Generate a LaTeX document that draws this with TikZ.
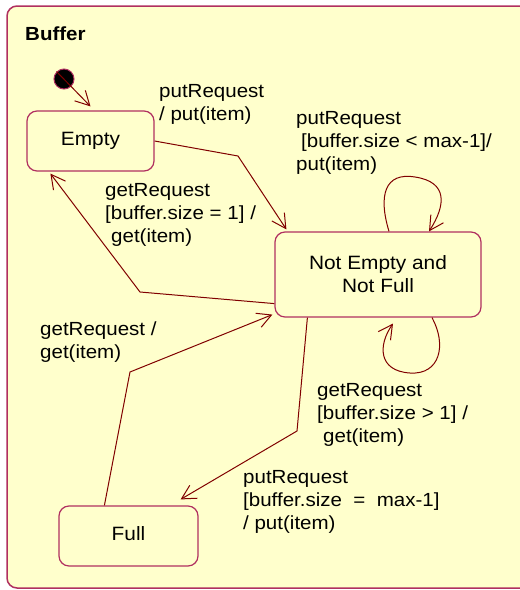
\documentclass[tikz,border=0pt]{standalone}
\usepackage{fontspec}
\setmainfont{Liberation Sans}[FakeStretch=1.08]
\usetikzlibrary{arrows.meta}
\definecolor{bufferfill}{RGB}{255,255,204}
\definecolor{framecol}{RGB}{176,48,96}
\definecolor{arrowcol}{RGB}{128,0,0}

\begin{document}
\begin{tikzpicture}[x=1pt, y=-1pt,
	state/.style={draw=framecol, line width=1.2pt, rounded corners=10pt, align=center, inner sep=0pt, font=\fontsize{19.3}{23}\selectfont},
	trans/.style={draw=arrowcol, line width=1pt, -{Straight Barb[length=14pt,width=15pt]}},
	lbl/.style={anchor=north west, inner sep=0pt, align=left, font=\fontsize{19}{23}\selectfont}]
	\useasboundingbox (0,0) rectangle (520,590);
	
	% the buffer frame
	\filldraw[fill=bufferfill, draw=framecol, line width=1.5pt, rounded corners=10pt] (7,6) rectangle (545,588);
	\node[anchor=north west, inner sep=0pt, font=\bfseries\fontsize{19}{23}\selectfont] (title) at (25,27) {Buffer};
	
	% states
	\node[circle, fill=black, draw=framecol, line width=1pt, minimum size=20pt, inner sep=0pt] (init) at (64,79) {};
	\node[state, minimum width=127pt, minimum height=60pt] (empty) at (90.5,141) {Empty};
	\node[state, minimum width=206pt, minimum height=85pt] (ne) at (378,274.5) {Not Empty and\\Not Full};
	\node[state, minimum width=139pt, minimum height=60pt] (full) at (128.5,536) {Full\vphantom{y}};
	
	% transitions
	\draw[trans] (init.north west) -- ([yshift=4pt]empty.north);
	\draw[trans] (empty.east) -- (238,156) -- ([xshift=12pt,yshift=2pt]ne.north west);
	\draw[trans] ([yshift=14pt]ne.south west) -- (140,292) -- ([xshift=24pt,yshift=-2pt]empty.south west);
	\draw[trans] ([xshift=46pt]full.north west) -- (130,372) -- ([xshift=-2pt,yshift=3pt]ne.south west);
	\draw[trans] ([xshift=33pt]ne.south west) -- (297,431) -- ([xshift=-18pt,yshift=6pt]full.north east);
	\draw[trans] ([xshift=11pt]ne.north) .. controls (378,195) and (385,172) .. (415,177)
		.. controls (448,182) and (446,205) .. ([xshift=51pt]ne.north);
	\draw[trans] ([xshift=54pt]ne.south) .. controls (447,345) and (440,375) .. (410,373)
		.. controls (378,371) and (378,345) .. ([xshift=15pt,yshift=-6pt]ne.south);
	
	% transition labels
	\node[lbl] (l1) at (159,84) {putRequest\\/ put(item)};
	\node[lbl] (l2) at (296,111) {putRequest\\\hspace{5pt}[buffer.size < max-1]/\\put(item)};
	\node[lbl] (l3) at (105,183) {getRequest\\{}[buffer.size = 1] /\\\hspace{6pt}get(item)};
	\node[lbl] (l4) at (40,322) {getRequest /\\get(item)};
	\node[lbl] (l5) at (317,383) {getRequest\\{}[buffer.size > 1] /\\\hspace{6pt}get(item)};
	\node[lbl] (l6) at (243,470) {putRequest\\{}[buffer.size~~=~~max-1]\\/ put(item)};
\end{tikzpicture}
\end{document}
